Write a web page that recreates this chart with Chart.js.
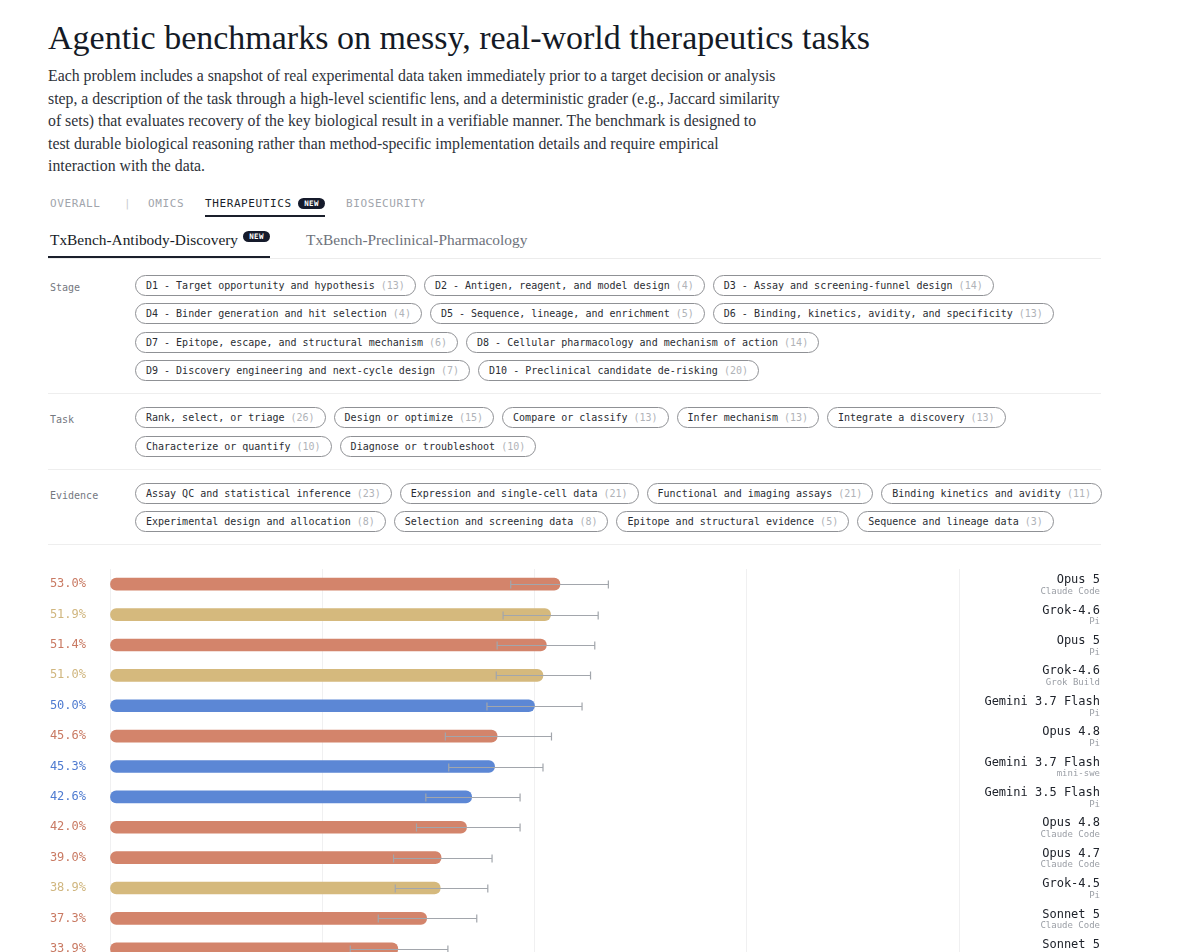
<!DOCTYPE html>
<html>
<head>
<meta charset="utf-8">
<script src="https://cdn.jsdelivr.net/npm/chart.js@4.4.1/dist/chart.umd.min.js"></script>
<style>
  html, body { margin: 0; padding: 0; background: #fff; }
  body { width: 1200px; height: 952px; position: relative; overflow: hidden; }
  .serif { font-family: "Liberation Serif", "DejaVu Serif", serif; }
  .mono  { font-family: "DejaVu Sans Mono", "Liberation Mono", monospace; }
  .abs { position: absolute; white-space: nowrap; }

  h1 { margin: 0; font-weight: normal; font-size: 34px; line-height: 40px; color: #141a26; left: 48px; top: 18px; }
  .lede { margin: 0; left: 48px; top: 65px; font-size: 15.8px; line-height: 22.6px; color: #2e323a; }

  .tab { top: 196px; font-size: 11px; line-height: 15px; letter-spacing: 0.6px; color: #a1a5ac; }
  .tab.on { color: #1a1f2b; }
  .badge { background: #151a2b; color: #fff; font-size: 7.5px; font-weight: bold; letter-spacing: 0.4px;
           height: 11px; line-height: 11px; width: 27px; text-align: center; border-radius: 6px; }

  .sub { top: 230px; font-size: 15.4px; line-height: 20px; color: #161b26; }
  .sub.off { color: #6e727b; }

  .filters { position: absolute; left: 48px; top: 259px; width: 1053px; }
  .group { display: flex; padding: 13px 0 12px; border-bottom: 1px solid #eeeeee; }
  .group:first-child { padding-top: 16px; }
  .glabel { width: 87px; padding-left: 2px; padding-top: 6px; box-sizing: border-box; flex: none;
            font-size: 10px; line-height: 14px; color: #74787f; }
  .rows { display: flex; flex-direction: column; gap: 7.4px; }
  .row { display: flex; gap: 8px; }
  .chip { box-sizing: border-box; height: 21px; line-height: 19px; padding: 0 10px; border: 1px solid #8f9195;
          border-radius: 11px; font-size: 10px; color: #2a2d33; white-space: nowrap; }
  .chip span { color: #b0b3b8; }

  .chart-wrap { position: absolute; left: 48px; top: 560px; width: 1053px; height: 404px; }
</style>
</head>
<body>
<h1 class="abs serif">Agentic benchmarks on messy, real-world therapeutics tasks</h1>
<p class="abs serif lede">Each problem includes a snapshot of real experimental data taken immediately prior to a target decision or analysis<br>step, a description of the task through a high-level scientific lens, and a deterministic grader (e.g., Jaccard similarity<br>of sets) that evaluates recovery of the key biological result in a verifiable manner. The benchmark is designed to<br>test durable biological reasoning rather than method-specific implementation details and require empirical<br>interaction with the data.</p>

<div class="abs mono tab" style="left:50px">OVERALL</div>
<div class="abs mono tab" style="left:124px;color:#c9ccd0">|</div>
<div class="abs mono tab" style="left:148px">OMICS</div>
<div class="abs mono tab on" style="left:205px">THERAPEUTICS</div>
<div class="abs mono badge" style="left:298px;top:198px">NEW</div>
<div class="abs mono tab" style="left:346px">BIOSECURITY</div>
<div class="abs" style="left:205px;top:215px;width:120px;height:1.5px;background:#1a1f2b"></div>

<div class="abs serif sub" style="left:50px">TxBench-Antibody-Discovery</div>
<div class="abs mono badge" style="left:243px;top:231px">NEW</div>
<div class="abs serif sub off" style="left:306px">TxBench-Preclinical-Pharmacology</div>
<div class="abs" style="left:48px;top:258px;width:1053px;height:1px;background:#ececec"></div>
<div class="abs" style="left:48px;top:256px;width:222px;height:2px;background:#1a1f2b"></div>

<div class="filters mono" id="filters"></div>

<div class="chart-wrap"><canvas id="chart"></canvas></div>

<script>
// ---------- filter chips ----------
var stageRows = [
  [["D1 - Target opportunity and hypothesis", 13], ["D2 - Antigen, reagent, and model design", 4], ["D3 - Assay and screening-funnel design", 14]],
  [["D4 - Binder generation and hit selection", 4], ["D5 - Sequence, lineage, and enrichment", 5], ["D6 - Binding, kinetics, avidity, and specificity", 13]],
  [["D7 - Epitope, escape, and structural mechanism", 6], ["D8 - Cellular pharmacology and mechanism of action", 14]],
  [["D9 - Discovery engineering and next-cycle design", 7], ["D10 - Preclinical candidate de-risking", 20]]
];
var taskRows = [
  [["Rank, select, or triage", 26], ["Design or optimize", 15], ["Compare or classify", 13], ["Infer mechanism", 13], ["Integrate a discovery", 13]],
  [["Characterize or quantify", 10], ["Diagnose or troubleshoot", 10]]
];
var evidenceRows = [
  [["Assay QC and statistical inference", 23], ["Expression and single-cell data", 21], ["Functional and imaging assays", 21], ["Binding kinetics and avidity", 11]],
  [["Experimental design and allocation", 8], ["Selection and screening data", 8], ["Epitope and structural evidence", 5], ["Sequence and lineage data", 3]]
];

// ---------- chart data ----------
var models   = ["Opus 5", "Grok-4.6", "Opus 5", "Grok-4.6", "Gemini 3.7 Flash", "Opus 4.8", "Gemini 3.7 Flash",
                "Gemini 3.5 Flash", "Opus 4.8", "Opus 4.7", "Grok-4.5", "Sonnet 5", "Sonnet 5"];
var harness  = ["Claude Code", "Pi", "Pi", "Grok Build", "Pi", "Pi", "mini-swe",
                "Pi", "Claude Code", "Claude Code", "Pi", "Claude Code", "Pi"];
var family   = ["claude", "grok", "claude", "grok", "gemini", "claude", "gemini",
                "gemini", "claude", "claude", "grok", "claude", "claude"];
var scores   = [53.0, 51.9, 51.4, 51.0, 50.0, 45.6, 45.3, 42.6, 42.0, 39.0, 38.9, 37.3, 33.9];
var ciLow    = [47.2, 46.3, 45.6, 45.5, 44.4, 39.5, 39.9, 37.2, 36.1, 33.4, 33.6, 31.6, 28.3];
var ciHigh   = [58.7, 57.5, 57.1, 56.6, 55.6, 52.0, 51.0, 48.3, 48.3, 45.0, 44.5, 43.2, 39.8];

var barColor  = { claude: "#d3846b", grok: "#d5b97d", gemini: "#5c87d5" };
var textColor = { claude: "#c97a63", grok: "#d0b67f", gemini: "#4f7bd0" };

(function buildFilters() {
  var wrap = document.getElementById("filters");
  [["Stage", stageRows], ["Task", taskRows], ["Evidence", evidenceRows]].forEach(function (g) {
    var group = document.createElement("div");
    group.className = "group";
    var lab = document.createElement("div");
    lab.className = "glabel";
    lab.textContent = g[0];
    group.appendChild(lab);
    var rows = document.createElement("div");
    rows.className = "rows";
    g[1].forEach(function (r) {
      var row = document.createElement("div");
      row.className = "row";
      r.forEach(function (c) {
        var chip = document.createElement("div");
        chip.className = "chip";
        chip.innerHTML = c[0] + " <span>(" + c[1] + ")</span>";
        row.appendChild(chip);
      });
      rows.appendChild(row);
    });
    group.appendChild(rows);
    wrap.appendChild(group);
  });
})();

// error bars + row labels, placed with the chart's own scales
var rowLabels = {
  id: "rowLabels",
  afterDatasetsDraw: function (chart) {
    var ctx = chart.ctx, area = chart.chartArea;
    var xs = chart.scales.x, ys = chart.scales.y;
    ctx.save();

    ctx.strokeStyle = "#a2a6ac";
    ctx.lineWidth = 1.2;
    scores.forEach(function (v, i) {
      var py = Math.round(ys.getPixelForValue(i)) + 0.5;
      var x0 = xs.getPixelForValue(ciLow[i]), x1 = xs.getPixelForValue(ciHigh[i]);
      ctx.beginPath();
      ctx.moveTo(x0, py); ctx.lineTo(x1, py);
      ctx.moveTo(x0, py - 4); ctx.lineTo(x0, py + 4);
      ctx.moveTo(x1, py - 4); ctx.lineTo(x1, py + 4);
      ctx.stroke();
    });

    ctx.textAlign = "right";
    ctx.textBaseline = "middle";
    scores.forEach(function (v, i) {
      var py = ys.getPixelForValue(i);
      ctx.font = '12px "DejaVu Sans Mono"';
      ctx.fillStyle = textColor[family[i]];
      ctx.fillText(v.toFixed(1) + "%", area.left - 24, py);

      ctx.fillStyle = "#20242c";
      ctx.fillText(models[i], chart.width - 1, py - 4);
      ctx.font = '9px "DejaVu Sans Mono"';
      ctx.fillStyle = "#9a9ea5";
      ctx.fillText(harness[i], chart.width - 1, py + 7.5);
    });
    ctx.restore();
  }
};

new Chart(document.getElementById("chart"), {
  type: "bar",
  data: {
    labels: models.map(function (m, i) { return m + " / " + harness[i]; }),
    datasets: [{
      data: scores,
      backgroundColor: family.map(function (f) { return barColor[f]; }),
      barThickness: 12,
      borderRadius: 6,
      borderSkipped: false
    }]
  },
  options: {
    indexAxis: "y",
    responsive: true,
    maintainAspectRatio: false,
    animation: false,
    devicePixelRatio: 1,
    layout: { padding: { left: 62, right: 142, top: 9, bottom: 0 } },
    plugins: { legend: { display: false }, tooltip: { enabled: false } },
    scales: {
      x: {
        min: 0, max: 100,
        ticks: { display: false, stepSize: 25 },
        border: { display: false },
        grid: { color: "#f0f0f1", lineWidth: 1, drawTicks: false }
      },
      y: { display: false }
    }
  },
  plugins: [rowLabels]
});
</script>
</body>
</html>
